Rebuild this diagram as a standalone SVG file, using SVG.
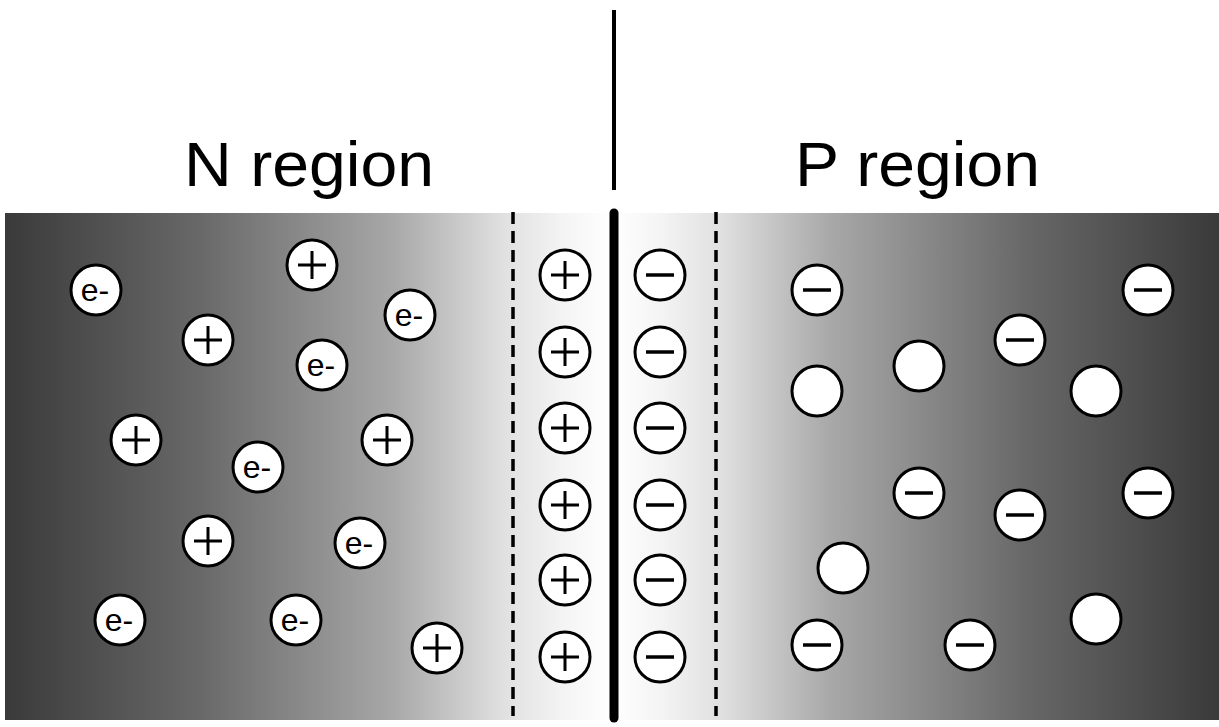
<svg xmlns="http://www.w3.org/2000/svg" width="1219" height="727" viewBox="0 0 1219 727">
<defs>
<linearGradient id="bg" gradientUnits="userSpaceOnUse" x1="5" y1="0" x2="1219" y2="0">
<stop offset="0" stop-color="#3a3a3a"/>
<stop offset="0.16" stop-color="#686868"/>
<stop offset="0.32" stop-color="#a8a8a8"/>
<stop offset="0.41" stop-color="#e0e0e0"/>
<stop offset="0.46" stop-color="#f4f4f4"/>
<stop offset="0.5" stop-color="#ffffff"/>
<stop offset="0.54" stop-color="#f4f4f4"/>
<stop offset="0.59" stop-color="#e0e0e0"/>
<stop offset="0.68" stop-color="#a8a8a8"/>
<stop offset="0.84" stop-color="#686868"/>
<stop offset="1" stop-color="#3a3a3a"/>
</linearGradient>
<g id="ring"><circle r="25" fill="#fff" stroke="#000" stroke-width="3"/></g>
<g id="plus"><use href="#ring"/><path d="M-14 0H14M0 -14V14" stroke="#000" stroke-width="3"/></g>
<g id="minus"><use href="#ring"/><path d="M-14 0H14" stroke="#000" stroke-width="3.5"/></g>
<g id="elec"><use href="#ring"/><text x="-1" y="11" class="e">e-</text></g>
</defs>
<style>
.title{font-family:"Liberation Sans",Arial,sans-serif;font-size:63px;fill:#000}
.e{font-family:"Liberation Sans",Arial,sans-serif;font-size:32px;text-anchor:middle;fill:#000}
.dash{stroke:#000;stroke-width:3.5;stroke-dasharray:12 7;fill:none}
</style>
<rect x="0" y="0" width="1219" height="727" fill="#fff"/>
<rect id="slab" x="5" y="213" width="1214" height="507" fill="url(#bg)"/>
<text class="title" x="184" y="186" textLength="250" lengthAdjust="spacingAndGlyphs">N region</text>
<text class="title" x="795" y="186" textLength="245" lengthAdjust="spacingAndGlyphs">P region</text>
<g id="connectors">
<line x1="614" y1="10" x2="614" y2="190" stroke="#000" stroke-width="4"/>
<line x1="614" y1="213" x2="614" y2="718" stroke="#000" stroke-width="9" stroke-linecap="round"/>
<line class="dash" x1="513" y1="212" x2="513" y2="716"/>
<line class="dash" x1="716" y1="212" x2="716" y2="716"/>
</g>
<g id="n-region">
<use href="#elec" x="96" y="290"/>
<use href="#plus" x="312" y="265"/>
<use href="#elec" x="410" y="315"/>
<use href="#plus" x="208" y="340"/>
<use href="#elec" x="322" y="365"/>
<use href="#plus" x="136" y="440"/>
<use href="#plus" x="387" y="440"/>
<use href="#elec" x="258" y="467"/>
<use href="#plus" x="208" y="541"/>
<use href="#elec" x="360" y="543"/>
<use href="#elec" x="120" y="620"/>
<use href="#elec" x="296" y="620"/>
<use href="#plus" x="437" y="648"/>
</g>
<g id="depletion">
<use href="#plus" x="565" y="275"/>
<use href="#plus" x="565" y="352"/>
<use href="#plus" x="565" y="428"/>
<use href="#plus" x="565" y="505"/>
<use href="#plus" x="565" y="580"/>
<use href="#plus" x="565" y="657"/>
<use href="#minus" x="660" y="275"/>
<use href="#minus" x="660" y="352"/>
<use href="#minus" x="660" y="428"/>
<use href="#minus" x="660" y="505"/>
<use href="#minus" x="660" y="580"/>
<use href="#minus" x="660" y="657"/>
</g>
<g id="p-region">
<use href="#minus" x="817" y="290"/>
<use href="#minus" x="1148" y="290"/>
<use href="#minus" x="1020" y="340"/>
<use href="#ring" x="919" y="366"/>
<use href="#ring" x="817" y="391"/>
<use href="#ring" x="1096" y="391"/>
<use href="#minus" x="919" y="493"/>
<use href="#minus" x="1148" y="493"/>
<use href="#minus" x="1020" y="515"/>
<use href="#ring" x="843" y="568"/>
<use href="#minus" x="817" y="645"/>
<use href="#minus" x="970" y="645"/>
<use href="#ring" x="1096" y="619"/>
</g>
</svg>
